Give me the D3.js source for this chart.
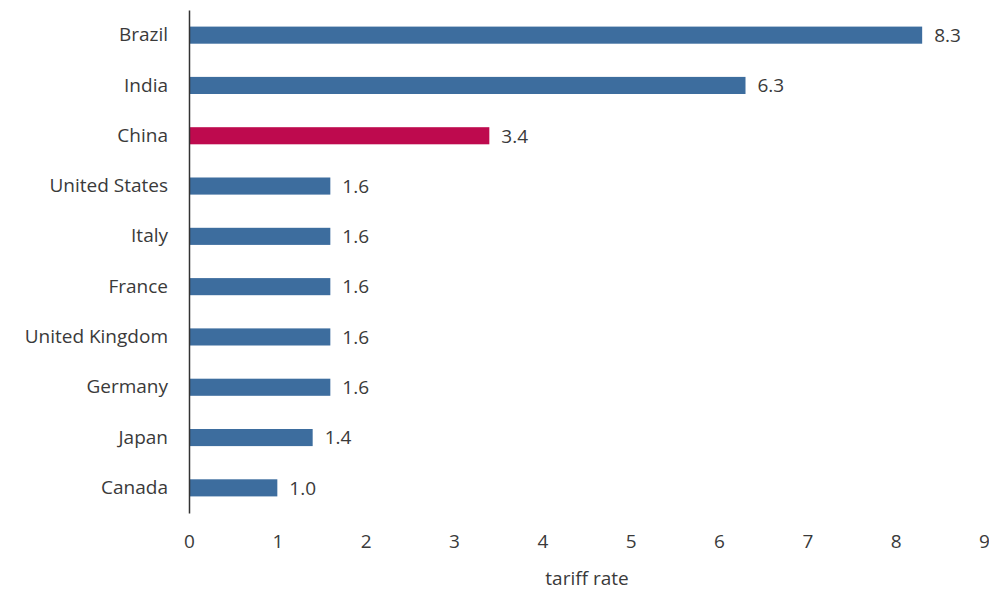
<!DOCTYPE html>
<html>
<head>
<meta charset="utf-8">
<script src="https://cdn.jsdelivr.net/npm/d3@7"></script>
<style>
  body { margin: 0; background: #fff; }
  svg text { font-family: "Open Sans", sans-serif; fill: #3a3a3a; }
</style>
</head>
<body>
<svg id="chart" width="989" height="596"></svg>
<script>
const countries = ['Brazil', 'India', 'China', 'United States', 'Italy', 'France', 'United Kingdom', 'Germany', 'Japan', 'Canada']
const rates = [8.3, 6.3, 3.4, 1.6, 1.6, 1.6, 1.6, 1.6, 1.4, 1.0]
const xTicks = [0, 1, 2, 3, 4, 5, 6, 7, 8, 9]
const highlight = 'China'

const data = countries.map((c, i) => ({ country: c, rate: rates[i] }))

const svg = d3.select('#chart')
const fontSize = '19px'

const x = d3.scaleLinear().domain([0, 9]).range([189, 984])
const y = d3.scaleBand().domain(countries).range([10, 513]).paddingInner(0.66).paddingOuter(0.33)

// bars
svg.selectAll('.bar').data(data)
  .enter().append('rect').attr('class', 'bar')
    .attr('x', x(0))
    .attr('y', d => y(d.country))
    .attr('width', d => x(d.rate) - x(0))
    .attr('height', y.bandwidth())
    .attr('fill', d => d.country === highlight ? '#BE0A4E' : '#3D6D9E')

// value labels
svg.selectAll('.val').data(data)
  .enter().append('text').attr('class', 'val')
    .attr('x', d => x(d.rate) + 12)
    .attr('y', d => y(d.country) + y.bandwidth() / 2)
    .attr('dy', '0.36em')
    .style('font-size', fontSize)
    .text(d => d.rate.toFixed(1))

// y axis: line and category names, no ticks
const yAxis = svg.append('g').attr('transform', `translate(${x(0)},0)`)
  .call(d3.axisLeft(y).tickSize(0).tickPadding(21).tickSizeOuter(0))
yAxis.select('.domain').attr('stroke', '#333').attr('stroke-width', 1.5)
yAxis.selectAll('text').style('font-size', fontSize).attr('fill', '#3a3a3a')

// x axis: labels only
const xAxis = svg.append('g').attr('transform', 'translate(0,528)')
  .call(d3.axisBottom(x).tickValues(xTicks).tickFormat(d3.format('d')).tickSize(0).tickPadding(6))
xAxis.select('.domain').remove()
xAxis.selectAll('text').style('font-size', fontSize).attr('fill', '#3a3a3a')

svg.append('text')
  .attr('x', 587).attr('y', 585)
  .attr('text-anchor', 'middle')
  .style('font-size', fontSize)
  .text('tariff rate')
</script>
</body>
</html>
